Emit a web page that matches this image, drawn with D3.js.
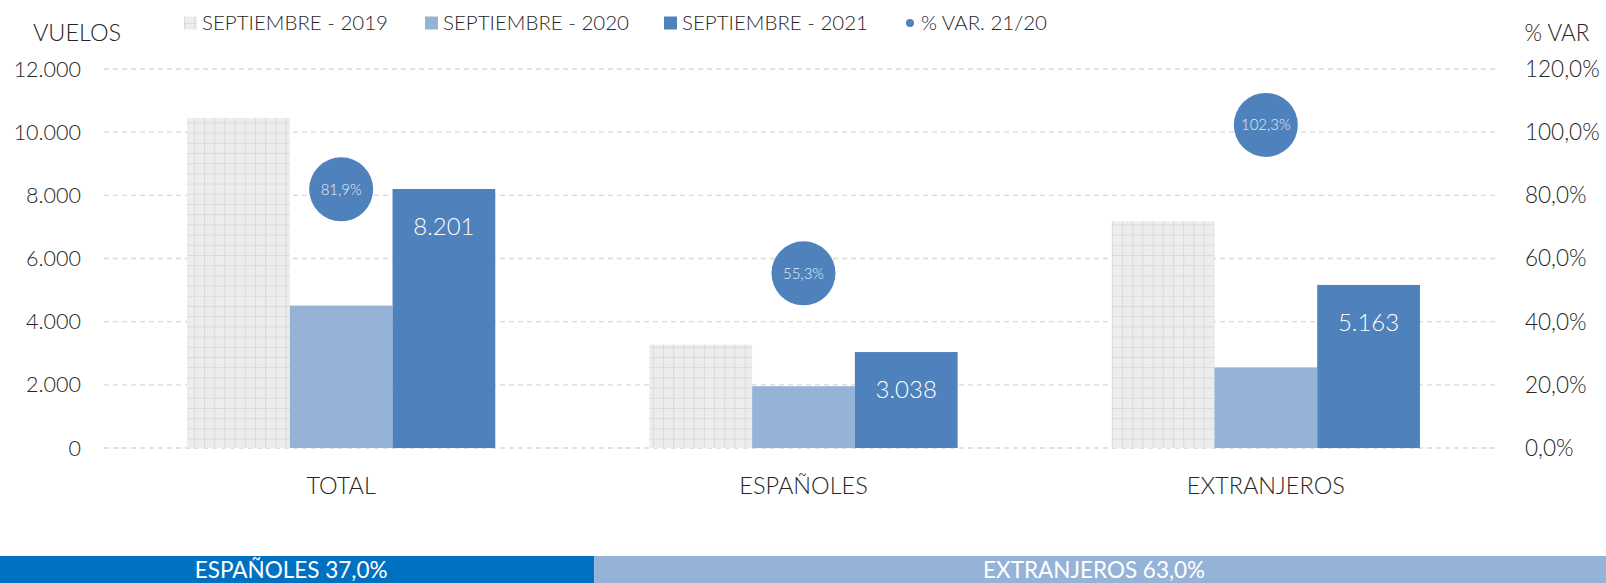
<!DOCTYPE html>
<html>
<head>
<meta charset="utf-8">
<script src="https://cdn.jsdelivr.net/npm/d3@7"></script>
<style>
  body { margin: 0; background: #fff; }
  svg { display: block; font-family: Lato, "Open Sans", sans-serif; font-weight: 300; }
</style>
</head>
<body>
<div id="chart"></div>
<script>
const categories = ["TOTAL", "ESPAÑOLES", "EXTRANJEROS"];
const series = ["SEPTIEMBRE - 2019", "SEPTIEMBRE - 2020", "SEPTIEMBRE - 2021"];
const vuelos2019 = [10450, 3270, 7180];
const vuelos2020 = [4508, 1956, 2552];
const vuelos2021 = [8201, 3038, 5163];
const varPct = [81.9, 55.3, 102.3];
const leftTicks = [0, 2000, 4000, 6000, 8000, 10000, 12000];
const rightTicks = [0, 20, 40, 60, 80, 100, 120];
const shareLabels = ["ESPAÑOLES", "EXTRANJEROS"];
const shareValues = [37.0, 63.0];

const width = 1606, height = 583;
const fmtInt = d3.formatLocale({ decimal: ",", thousands: ".", grouping: [3], currency: ["", ""] }).format(",d");
const fmtPct = v => v.toFixed(1).replace(".", ",") + "%";

const svg = d3.select("#chart").append("svg").attr("width", width).attr("height", height);

// pattern for 2019 bars
const defs = svg.append("defs");
const pat = defs.append("pattern").attr("id", "grid19").attr("patternUnits", "userSpaceOnUse")
  .attr("width", 10.2).attr("height", 10.2);
pat.append("rect").attr("width", 10.2).attr("height", 10.2).attr("fill", "#ededed");
pat.append("path").attr("d", "M0,0.5H10.2M0.5,0V10.2").attr("stroke", "#dadada").attr("stroke-width", 1);

const x0 = d3.scaleBand().domain(categories).range([110, 1497]);
const x1 = d3.scaleBand().domain(series).range([x0.bandwidth() / 6, x0.bandwidth() * 5 / 6]);
const y = d3.scaleLinear().domain([0, 12000]).range([448, 69]);
const y2 = d3.scaleLinear().domain([0, 120]).range([448, 69]);

// gridlines
svg.append("g").selectAll("line").data(leftTicks).join("line")
  .attr("x1", 104).attr("x2", 1498)
  .attr("y1", d => y(d)).attr("y2", d => y(d))
  .attr("stroke", "#d9d9d9").attr("stroke-width", 1.3).attr("stroke-dasharray", "5,4");

// left axis
svg.append("g").selectAll("text").data(leftTicks).join("text")
  .attr("x", 81).attr("y", d => y(d)).attr("dy", "0.35em")
  .attr("text-anchor", "end").attr("font-size", 21.5).attr("fill", "#262626")
  .text(d => fmtInt(d));

// right axis
svg.append("g").selectAll("text").data(rightTicks).join("text")
  .attr("x", 1525).attr("y", d => y2(d)).attr("dy", "0.35em")
  .attr("font-size", 22.5).attr("fill", "#262626")
  .text(d => fmtPct(d));

svg.append("text").attr("x", 77).attr("y", 33).attr("dy", "0.35em").attr("text-anchor", "middle")
  .attr("font-size", 23.5).attr("fill", "#262626").text("VUELOS");
svg.append("text").attr("x", 1557).attr("y", 33).attr("dy", "0.35em").attr("text-anchor", "middle")
  .attr("font-size", 22.5).attr("fill", "#262626").text("% VAR");

// bars
const seriesData = [vuelos2019, vuelos2020, vuelos2021];
const fills = ["url(#grid19)", "#95b3d7", "#4f81bd"];
series.forEach((s, si) => {
  svg.append("g").selectAll("rect").data(categories).join("rect")
    .attr("x", c => x0(c) + x1(s))
    .attr("y", (c, i) => y(seriesData[si][i]))
    .attr("width", x1.bandwidth())
    .attr("height", (c, i) => y(0) - y(seriesData[si][i]))
    .attr("fill", fills[si]);
});

// 2021 data labels
svg.append("g").selectAll("text").data(categories).join("text")
  .attr("x", c => x0(c) + x1(series[2]) + x1.bandwidth() / 2)
  .attr("y", (c, i) => y(vuelos2021[i]) + 38)
  .attr("dy", "0.35em").attr("text-anchor", "middle")
  .attr("font-size", 24).attr("fill", "#fff")
  .text((c, i) => fmtInt(vuelos2021[i]));

// % var bubbles
const bub = svg.append("g").selectAll("g").data(categories).join("g")
  .attr("transform", (c, i) => `translate(${x0(c) + x0.bandwidth() / 2},${y2(varPct[i])})`);
bub.append("circle").attr("r", 32).attr("fill", "#4f81bd");
bub.append("text").attr("dy", "0.35em").attr("text-anchor", "middle")
  .attr("font-size", 15).attr("fill", "#e4ecf5")
  .text((c, i) => fmtPct(varPct[i]));

// category labels
svg.append("g").selectAll("text").data(categories).join("text")
  .attr("x", c => x0(c) + x0.bandwidth() / 2).attr("y", 486).attr("dy", "0.35em")
  .attr("text-anchor", "middle").attr("font-size", 23.5).attr("fill", "#262626")
  .text(c => c);

// legend
const legendItems = [
  { label: series[0], x: 184, kind: "rect", fill: "url(#grid19)" },
  { label: series[1], x: 425, kind: "rect", fill: "#95b3d7" },
  { label: series[2], x: 664, kind: "rect", fill: "#4f81bd" },
  { label: "% VAR. 21/20", x: 906, kind: "dot", fill: "#4f81bd" }
];
const lg = svg.append("g").selectAll("g").data(legendItems).join("g")
  .attr("transform", d => `translate(${d.x},23)`);
lg.filter(d => d.kind === "rect").append("rect")
  .attr("y", -6.5).attr("width", 13).attr("height", 13).attr("fill", d => d.fill);
lg.filter(d => d.kind === "dot").append("circle")
  .attr("cx", 4).attr("r", 4).attr("fill", d => d.fill);
lg.append("text").attr("x", d => d.kind === "dot" ? 15 : 18).attr("dy", "0.35em")
  .attr("font-size", 20.5).attr("fill", "#262626").text(d => d.label);

// bottom share bar
const xs = d3.scaleLinear().domain([0, d3.sum(shareValues)]).range([0, width]);
const starts = d3.cumsum([0, ...shareValues]);
const shareFill = ["#0070c0", "#95b3d7"];
const sb = svg.append("g").selectAll("g").data(shareLabels).join("g");
sb.append("rect")
  .attr("x", (d, i) => xs(starts[i])).attr("y", 556)
  .attr("width", (d, i) => xs(shareValues[i])).attr("height", 27)
  .attr("fill", (d, i) => shareFill[i]);
sb.append("text")
  .attr("x", (d, i) => xs(starts[i] + shareValues[i] / 2) - 6).attr("y", 578)
  .attr("text-anchor", "middle").attr("font-size", 22.5).attr("fill", "#fff")
  .style("font-weight", 400)
  .text((d, i) => `${d} ${fmtPct(shareValues[i])}`);
</script>
</body>
</html>
